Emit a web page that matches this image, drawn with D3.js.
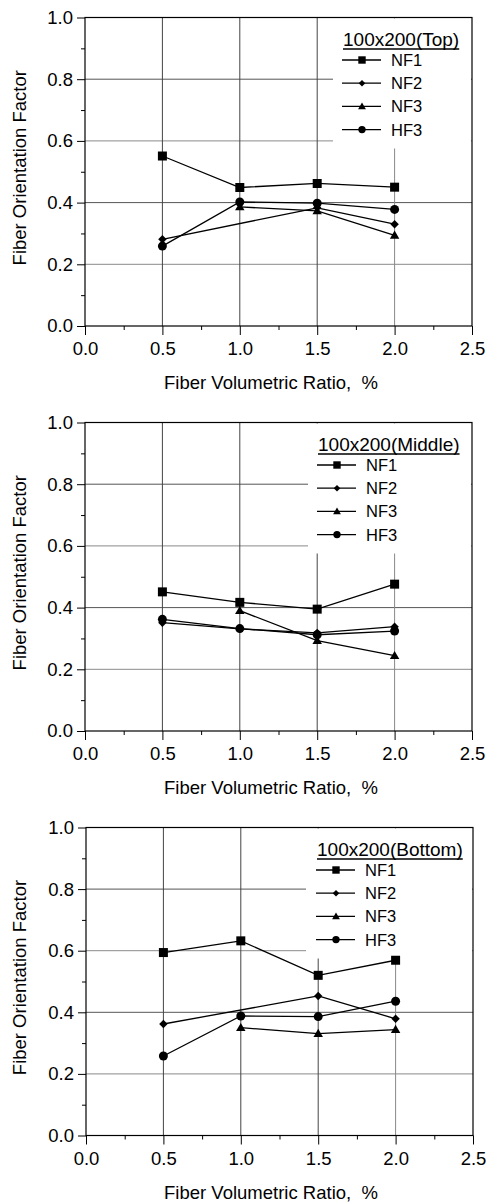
<!DOCTYPE html>
<html>
<head>
<meta charset="utf-8">
<script src="https://cdn.jsdelivr.net/npm/d3@7/dist/d3.min.js"></script>
<style>
  body { margin: 0; background: #fff; }
  text { font-family: "Liberation Sans", Arial, sans-serif; fill: #000; }
</style>
</head>
<body>
<div id="chart"></div>
<script>
var width = 486,
    height = 1202;

// data
var xValues = [0.5, 1.0, 1.5, 2.0];
var seriesNames = ["NF1", "NF2", "NF3", "HF3"];
var panelTitles = ["100x200(Top)", "100x200(Middle)", "100x200(Bottom)"];
var xTicks = [0.0, 0.5, 1.0, 1.5, 2.0, 2.5];
var yTicks = [0.0, 0.2, 0.4, 0.6, 0.8, 1.0];

var topNF1 = [0.551, 0.449, 0.462, 0.450];
var topNF2 = [0.281, null, 0.383, 0.330];
var topNF3 = [null, 0.386, 0.373, 0.294];
var topHF3 = [0.259, 0.402, 0.398, 0.378];

var midNF1 = [0.451, 0.417, 0.395, 0.476];
var midNF2 = [0.351, 0.331, 0.318, 0.338];
var midNF3 = [null, 0.390, 0.293, 0.244];
var midHF3 = [0.362, 0.332, 0.312, 0.324];

var botNF1 = [0.594, 0.632, 0.520, 0.569];
var botNF2 = [0.362, null, 0.453, 0.379];
var botNF3 = [null, 0.350, 0.331, 0.344];
var botHF3 = [0.258, 0.388, 0.386, 0.436];

var panelData = [
    [topNF1, topNF2, topNF3, topHF3],
    [midNF1, midNF2, midNF3, midHF3],
    [botNF1, botNF2, botNF3, botHF3]
];

// layout of each panel (pixels)
var panels = [
    {left: 85, right: 472, top: 17.5, bottom: 326, legendX: 343, boxX: 333},
    {left: 85, right: 472, top: 422.5, bottom: 731, legendX: 318, boxX: 308},
    {left: 86, right: 473, top: 827.5, bottom: 1135.5, legendX: 317, boxX: 306}
];

var markerShapes = ["square", "diamond", "triangle", "circle"];

function markerPath(shape, r) {
    if (shape == "square") return `M${-r},${-r}H${r}V${r}H${-r}Z`;
    if (shape == "diamond") return `M0,${-r}L${r},0L0,${r}L${-r},0Z`;
    if (shape == "triangle") return `M0,${-r*1.05}L${r*1.05},${r*0.75}L${-r*1.05},${r*0.75}Z`;
    return d3.symbol().type(d3.symbolCircle).size(Math.PI * r * r)();
}

var svg = d3.select("#chart").append("svg")
    .attr("width", width)
    .attr("height", height);

panels.forEach(function(p, pi) {
    var g = svg.append("g");
    var x = d3.scaleLinear().domain([0, 2.5]).range([p.left, p.right]);
    var y = d3.scaleLinear().domain([0, 1]).range([p.bottom, p.top]);

    // grid lines
    g.selectAll(".hgrid").data([0.2, 0.4, 0.6, 0.8]).enter().append("line")
        .attr("x1", p.left).attr("x2", p.right)
        .attr("y1", d => y(d)).attr("y2", d => y(d))
        .attr("stroke", (d, i) => i % 2 == 0 ? "#8a8a8a" : "#555")
        .attr("stroke-width", 1);
    g.selectAll(".vgrid").data([0.5, 1.0, 1.5, 2.0]).enter().append("line")
        .attr("x1", d => x(d)).attr("x2", d => x(d))
        .attr("y1", p.top).attr("y2", p.bottom)
        .attr("stroke", (d, i) => i == 3 ? "#888" : "#444")
        .attr("stroke-width", 1);

    // white legend box covers the grid
    g.append("rect")
        .attr("x", p.boxX).attr("y", p.top + 1)
        .attr("width", p.right - p.boxX - 1)
        .attr("height", 130)
        .attr("fill", "#fff");

    // frame
    g.append("rect")
        .attr("x", p.left).attr("y", p.top)
        .attr("width", p.right - p.left).attr("height", p.bottom - p.top)
        .attr("fill", "none").attr("stroke", "#000").attr("stroke-width", 1.2);

    // y axis
    var yAxis = d3.axisLeft(y).tickValues(yTicks).tickSize(8).tickPadding(4)
        .tickFormat(d3.format(".1f"));
    var yg = g.append("g").attr("transform", `translate(${p.left},0)`).call(yAxis);
    yg.select(".domain").remove();
    yg.selectAll("text").style("font-size", "18.5px").attr("font-family", null);
    g.append("g").attr("transform", `translate(${p.left},0)`)
        .call(d3.axisLeft(y).tickValues([0.1, 0.3, 0.5, 0.7, 0.9]).tickSize(4).tickFormat(""))
        .select(".domain").remove();

    // x axis
    var xAxis = d3.axisBottom(x).tickValues(xTicks).tickSize(9).tickPadding(7)
        .tickFormat(d3.format(".1f"));
    var xg = g.append("g").attr("transform", `translate(0,${p.bottom})`).call(xAxis);
    xg.select(".domain").remove();
    xg.selectAll("text").style("font-size", "18.5px").attr("font-family", null);
    g.append("g").attr("transform", `translate(0,${p.bottom})`)
        .call(d3.axisBottom(x).tickValues([0.25, 0.75, 1.25, 1.75, 2.25]).tickSize(4).tickFormat(""))
        .select(".domain").remove();

    // axis titles
    g.append("text")
        .attr("x", 271).attr("y", p.bottom + 63)
        .attr("text-anchor", "middle")
        .style("font-size", "18.5px")
        .style("white-space", "pre")
        .text("Fiber Volumetric Ratio,  %");
    g.append("text")
        .attr("transform", `translate(26,${(p.top + p.bottom) / 2 - 4}) rotate(-90)`)
        .attr("text-anchor", "middle")
        .style("font-size", "18.5px")
        .text("Fiber Orientation Factor");

    // series
    var line = d3.line().x(d => x(d[0])).y(d => y(d[1]));
    panelData[pi].forEach(function(vals, si) {
        var pts = xValues.map((xv, i) => [xv, vals[i]]).filter(d => d[1] != null);
        g.append("path")
            .attr("d", line(pts))
            .attr("fill", "none")
            .attr("stroke", "#000")
            .attr("stroke-width", 1.3);
        g.selectAll(".m" + si).data(pts).enter().append("path")
            .attr("transform", d => `translate(${x(d[0])},${y(d[1])})`)
            .attr("d", markerPath(markerShapes[si], markerShapes[si] == "diamond" ? 4.2 : 4.5))
            .attr("fill", "#000");
    });

    // legend
    var lg = g.append("g").attr("transform", `translate(${p.legendX},${p.top})`);
    var title = lg.append("text")
        .attr("x", 0).attr("y", 28.5)
        .style("font-size", "19px")
        .text(panelTitles[pi]);
    var tw = title.node().getComputedTextLength();
    lg.append("line")
        .attr("x1", 0).attr("x2", tw)
        .attr("y1", 31.5).attr("y2", 31.5)
        .attr("stroke", "#000").attr("stroke-width", 1.5);
    var rows = lg.selectAll(".row").data(seriesNames).enter().append("g")
        .attr("transform", (d, i) => `translate(0,${42.5 + i * 23.2})`);
    rows.append("line")
        .attr("x1", -1).attr("x2", 38)
        .attr("stroke", "#000").attr("stroke-width", 1.3);
    rows.append("path")
        .attr("transform", "translate(19,0)")
        .attr("d", (d, i) => markerPath(markerShapes[i], markerShapes[i] == "diamond" ? 3.3 : 3.7))
        .attr("fill", "#000");
    rows.append("text")
        .attr("x", 48).attr("y", 6)
        .style("font-size", "16.5px")
        .text(d => d);
});
</script>
</body>
</html>
